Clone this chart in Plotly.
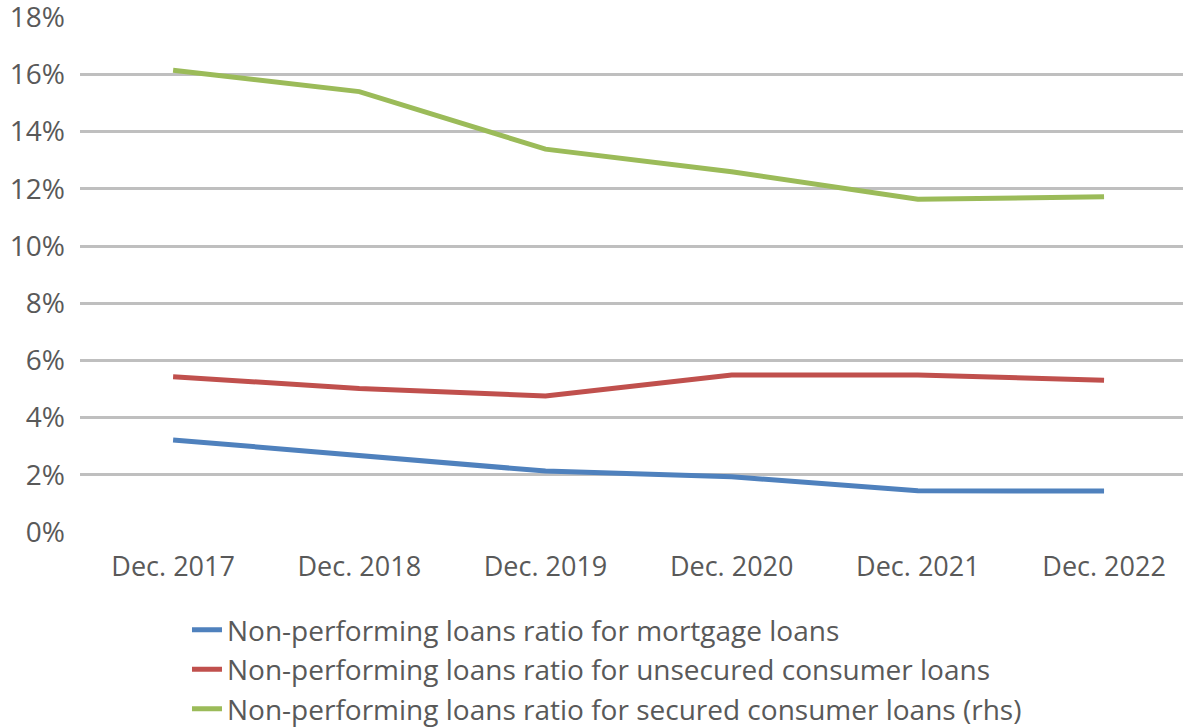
import plotly.graph_objects as go

# Reporting dates on the category axis
periods = ["Dec. 2017", "Dec. 2018", "Dec. 2019", "Dec. 2020", "Dec. 2021", "Dec. 2022"]

# Non-performing loans ratios (as fractions)
npl_mortgage = [0.0322, 0.0267, 0.0213, 0.0193, 0.0144, 0.0143]
npl_unsecured = [0.0543, 0.0502, 0.0476, 0.0549, 0.0549, 0.0531]
npl_secured = [0.1615, 0.1540, 0.1339, 0.1260, 0.1164, 0.1172]

series_names = [
    "Non-performing loans ratio for mortgage loans",
    "Non-performing loans ratio for unsecured consumer loans",
    "Non-performing loans ratio for secured consumer loans (rhs)",
]
series_colors = ["#4F81BD", "#C0504D", "#9BBB59"]

y_ticks = [0, 0.02, 0.04, 0.06, 0.08, 0.10, 0.12, 0.14, 0.16, 0.18]

text_color = "#595959"
font_family = "Open Sans, Segoe UI, DejaVu Sans, sans-serif"

fig = go.Figure()
for name, values, color in zip(series_names, [npl_mortgage, npl_unsecured, npl_secured], series_colors):
    fig.add_trace(go.Scatter(
        x=list(range(len(periods))),
        y=values,
        name=name,
        mode="lines",
        line=dict(color=color, width=5),
        hoverinfo="x+y",
    ))

fig.update_layout(
    width=1183,
    height=727,
    margin=dict(l=80, r=0, t=17, b=195, autoexpand=False),
    paper_bgcolor="white",
    plot_bgcolor="white",
    font=dict(family=font_family, size=27, color=text_color),
    showlegend=True,
    legend=dict(
        x=0.097, xanchor="left",
        y=-0.142, yanchor="top",
        orientation="v",
        font=dict(size=28, color=text_color),
        itemwidth=30,
        tracegroupgap=0,
        bgcolor="rgba(0,0,0,0)",
    ),
    xaxis=dict(
        range=[-0.5, 5.424],
        tickmode="array",
        tickvals=list(range(len(periods))),
        ticktext=periods,
        showgrid=False,
        zeroline=False,
        showline=False,
        ticks="",
        ticklabelstandoff=16,
        tickfont=dict(size=27, color=text_color),
        automargin=False,
        fixedrange=True,
    ),
    yaxis=dict(
        range=[0, 0.1801],
        tickmode="array",
        tickvals=y_ticks,
        tickformat=".0%",
        showgrid=True,
        gridcolor="#BFBFBF",
        gridwidth=2.5,
        zeroline=False,
        showline=False,
        ticks="",
        ticklabelstandoff=14,
        ticklabeloverflow="allow",
        tickfont=dict(size=28, color=text_color),
        automargin=False,
        fixedrange=True,
    ),
)

fig.write_html("out.html")
